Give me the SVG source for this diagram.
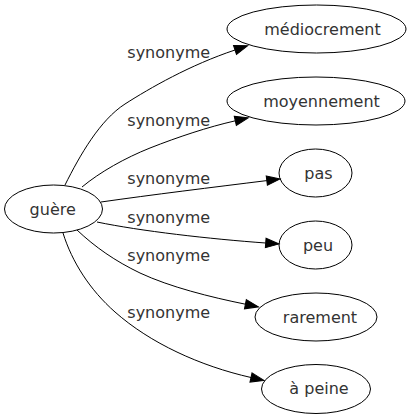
<svg xmlns="http://www.w3.org/2000/svg" width="411" height="419" viewBox="0 0 411 419">
<style>
.n ellipse{fill:none;stroke:#000;stroke-width:1}
text{font-family:"DejaVu Sans",sans-serif;font-size:16px;fill:#333;text-anchor:middle}
.e path{fill:none;stroke:#000;stroke-width:1}
</style>
<defs>
<marker id="ah" markerUnits="userSpaceOnUse" markerWidth="14" markerHeight="10" refX="0" refY="4.7" orient="auto" overflow="visible">
<polygon points="0,0 13.3,4.7 0,9.4" fill="#000" stroke="#000" stroke-width="1"/>
</marker>
</defs>
<rect width="411" height="419" fill="#fff"/>
<g id="edges" class="e">
<path marker-end="url(#ah)" d="M65,185 C80,155 100,120 125,104 C150,88 190,65 235,50"/>
<path marker-end="url(#ah)" d="M82,187 C100,172 125,158 150,148 C178,137 208,127 235.3,120.8"/>
<path marker-end="url(#ah)" d="M101,202 C150,195 215,187 266.8,180.6"/>
<path marker-end="url(#ah)" d="M97,222 C140,231 210,239 265.7,243"/>
<path marker-end="url(#ah)" d="M77,230 C95,247 115,261 140,273 C170,287 210,297 245.4,304.2"/>
<path marker-end="url(#ah)" d="M63,233 C72,262 90,290 115,312 C150,343 200,366 251,377.5"/>
<text x="168.7" y="58">synonyme</text>
<text x="168.7" y="126">synonyme</text>
<text x="168.7" y="184">synonyme</text>
<text x="168.7" y="223">synonyme</text>
<text x="168.7" y="261">synonyme</text>
<text x="168.7" y="318">synonyme</text>
</g>
<g id="guere" class="n"><ellipse cx="53.5" cy="209" rx="49" ry="24"/><text x="52.7" y="214.5">guère</text></g>
<g id="mediocrement" class="n"><ellipse cx="316.5" cy="29" rx="89.5" ry="24"/><text x="322.5" y="34.8">médiocrement</text></g>
<g id="moyennement" class="n"><ellipse cx="316" cy="101" rx="89" ry="24"/><text x="321.5" y="106.8">moyennement</text></g>
<g id="pas" class="n"><ellipse cx="315.5" cy="173" rx="36.5" ry="24"/><text x="318.5" y="178.8">pas</text></g>
<g id="peu" class="n"><ellipse cx="315.5" cy="245" rx="36.5" ry="24"/><text x="318" y="250.8">peu</text></g>
<g id="rarement" class="n"><ellipse cx="316" cy="317" rx="61" ry="24"/><text x="320" y="322.6">rarement</text></g>
<g id="a_peine" class="n"><ellipse cx="316" cy="389" rx="54.5" ry="24.5"/><text x="319" y="394">à peine</text></g>
</svg>
